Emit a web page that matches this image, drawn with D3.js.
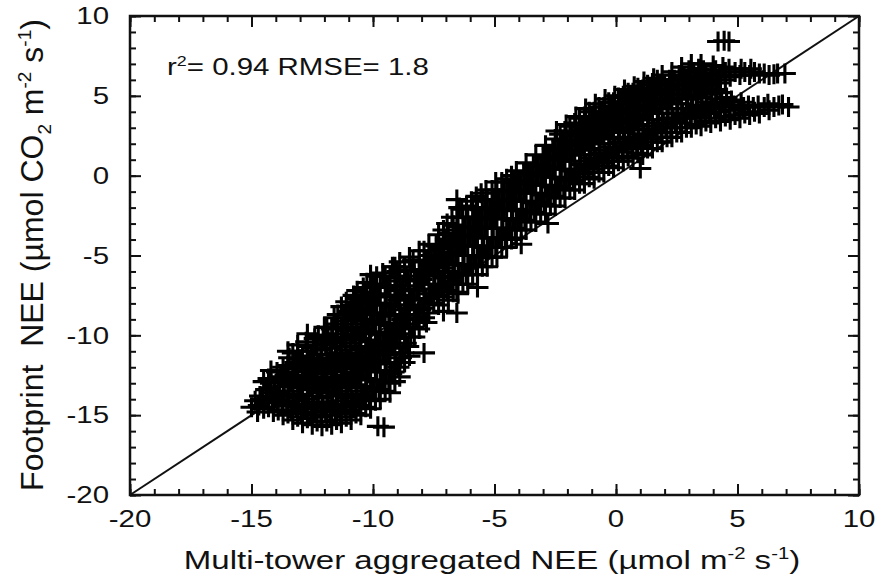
<!DOCTYPE html>
<html>
<head>
<meta charset="utf-8">
<script src="https://cdn.jsdelivr.net/npm/d3@7"></script>
<style>
  body { margin: 0; background: #fff; }
  svg text { font-family: "Liberation Sans", Arial, Helvetica, sans-serif; fill: #111; }
</style>
</head>
<body>
<div id="chart"></div>
<script>
// tick values for both axes (same range)
const xTicks = [-20, -15, -10, -5, 0, 5, 10];
const yTicks = [-20, -15, -10, -5, 0, 5, 10];

// stats shown in the corner
const r2 = "0.94";
const rmse = "1.8";

// [multi-tower aggregated NEE, footprint NEE]
const uptakePoints = [
  [-15.0,-14.5],[-14.85,-14.1],[-14.75,-14.8],
  [-14.5,-14.6],[-14.55,-14.0],[-14.4,-13.4],[-14.5,-12.9],
  [-14.2,-12.2],[-14.1,-14.8],[-14.15,-14.2],[-14.05,-13.6],[-14.2,-13.0],
  [-13.7,-15.0],[-13.75,-14.4],[-13.65,-13.8],[-13.7,-13.2],[-13.8,-12.6],[-13.7,-12.0],[-13.5,-11.0],
  [-13.3,-15.3],[-13.35,-14.7],[-13.25,-14.1],[-13.3,-13.5],[-13.4,-12.9],[-13.3,-12.3],[-13.2,-11.7],[-13.3,-11.1],[-13.1,-10.6],
  [-12.9,-15.5],[-12.95,-14.9],[-12.85,-14.3],[-12.9,-13.7],[-13.0,-13.1],[-12.9,-12.5],[-12.8,-11.9],[-12.9,-11.3],[-12.7,-10.7],[-12.7,-9.9],
  [-12.5,-15.6],[-12.55,-15.0],[-12.45,-14.4],[-12.5,-13.8],[-12.6,-13.2],[-12.5,-12.6],[-12.4,-12.0],[-12.5,-11.4],[-12.45,-10.8],[-12.4,-10.2],
  [-12.1,-15.7],[-12.15,-15.1],[-12.05,-14.5],[-12.1,-13.9],[-12.2,-13.3],[-12.1,-12.7],[-12.0,-12.1],[-12.1,-11.5],[-12.15,-10.9],[-12.05,-10.3],[-12.0,-9.5],
  [-11.7,-15.6],[-11.75,-15.0],[-11.65,-14.4],[-11.7,-13.8],[-11.8,-13.2],[-11.7,-12.6],[-11.6,-12.0],[-11.7,-11.4],[-11.75,-10.8],[-11.65,-10.2],[-11.7,-9.6],[-11.6,-8.9],
  [-11.3,-15.5],[-11.35,-14.9],[-11.25,-14.3],[-11.3,-13.7],[-11.4,-13.1],[-11.3,-12.5],[-11.2,-11.9],[-11.3,-11.3],[-11.35,-10.7],[-11.25,-10.1],[-11.3,-9.5],[-11.2,-8.9],[-11.3,-8.2],
  [-10.9,-15.3],[-10.95,-14.7],[-10.85,-14.1],[-10.9,-13.5],[-11.0,-12.9],[-10.9,-12.3],[-10.8,-11.7],[-10.9,-11.1],[-10.95,-10.5],[-10.85,-9.9],[-10.9,-9.3],[-10.8,-8.7],[-10.9,-8.1],[-10.8,-7.5],
  [-10.5,-15.0],[-10.55,-14.4],[-10.45,-13.8],[-10.5,-13.2],[-10.6,-12.6],[-10.5,-12.0],[-10.4,-11.4],[-10.5,-10.8],[-10.55,-10.2],[-10.45,-9.6],[-10.5,-9.0],[-10.4,-8.4],[-10.5,-7.8],[-10.4,-7.0],
  [-10.1,-14.6],[-10.15,-14.0],[-10.05,-13.4],[-10.1,-12.8],[-10.2,-12.2],[-10.1,-11.6],[-10.0,-11.0],[-10.1,-10.4],[-10.15,-9.8],[-10.05,-9.2],[-10.1,-8.6],[-10.0,-8.0],[-10.1,-7.4],[-10.0,-6.8],[-10.1,-6.2],
  [-9.7,-14.0],[-9.75,-13.4],[-9.65,-12.8],[-9.7,-12.2],[-9.8,-11.6],[-9.7,-11.0],[-9.6,-10.4],[-9.7,-9.8],[-9.75,-9.2],[-9.65,-8.6],[-9.7,-8.0],[-9.8,-7.4],[-9.7,-6.8],[-9.6,-6.1],
  [-9.3,-13.6],[-9.35,-13.0],[-9.25,-12.4],[-9.3,-11.8],[-9.4,-11.2],[-9.3,-10.6],[-9.2,-10.0],[-9.3,-9.4],[-9.35,-8.8],[-9.25,-8.2],[-9.3,-7.6],[-9.4,-7.0],[-9.3,-6.4],[-9.2,-5.7],
  [-8.9,-12.6],[-8.95,-12.0],[-8.85,-11.4],[-8.9,-10.8],[-9.0,-10.2],[-8.9,-9.6],[-8.8,-9.0],[-8.9,-8.4],[-8.95,-7.8],[-8.85,-7.2],[-8.9,-6.6],[-9.0,-6.0],[-8.9,-5.4],
  [-8.5,-11.3],[-8.55,-10.7],[-8.45,-10.1],[-8.5,-9.5],[-8.6,-8.9],[-8.5,-8.3],[-8.4,-7.7],[-8.5,-7.1],[-8.55,-6.5],[-8.45,-5.9],[-8.5,-5.1],
  [-8.1,-9.6],[-8.15,-9.0],[-8.05,-8.4],[-8.1,-7.8],[-8.2,-7.2],[-8.1,-6.6],[-8.0,-6.0],[-8.1,-5.4],[-8.1,-4.7],
  [-7.7,-8.6],[-7.75,-8.0],[-7.65,-7.4],[-7.7,-6.8],[-7.8,-6.2],[-7.7,-5.6],[-7.6,-5.0],[-7.7,-4.3],
  [-7.3,-8.1],[-7.35,-7.5],[-7.25,-6.9],[-7.3,-6.3],[-7.4,-5.7],[-7.3,-5.1],[-7.2,-4.5],[-7.3,-3.7],
  [-6.9,-7.8],[-6.95,-7.2],[-6.85,-6.6],[-6.9,-6.0],[-7.0,-5.4],[-6.9,-4.8],[-6.8,-4.2],[-6.9,-3.6],[-6.95,-3.0],
  [-6.5,-7.4],[-6.55,-6.8],[-6.45,-6.2],[-6.5,-5.6],[-6.6,-5.0],[-6.5,-4.4],[-6.4,-3.8],[-6.5,-3.2],[-6.55,-2.6],[-6.45,-2.0],
  [-6.1,-6.8],[-6.15,-6.2],[-6.05,-5.6],[-6.1,-5.0],[-6.2,-4.4],[-6.1,-3.8],[-6.0,-3.2],[-6.1,-2.6],[-6.15,-1.9],
  [-5.7,-6.2],[-5.75,-5.6],[-5.65,-5.0],[-5.7,-4.4],[-5.8,-3.8],[-5.7,-3.2],[-5.6,-2.6],[-5.7,-2.0],[-5.75,-1.3],
  [-5.3,-5.7],[-5.35,-5.1],[-5.25,-4.5],[-5.3,-3.9],[-5.4,-3.3],[-5.3,-2.7],[-5.2,-2.1],[-5.3,-1.5],[-5.35,-0.9],
  [-4.9,-5.1],[-4.95,-4.5],[-4.85,-3.9],[-4.9,-3.3],[-5.0,-2.7],[-4.9,-2.1],[-4.8,-1.5],[-4.9,-0.9],[-4.95,-0.4],
  [-4.5,-4.5],[-4.55,-3.9],[-4.45,-3.3],[-4.5,-2.7],[-4.6,-2.1],[-4.5,-1.5],[-4.4,-0.9],[-4.5,-0.2]
];

const transitionPoints = [
  [-4.1,-3.9],[-4.15,-3.3],[-4.05,-2.7],[-4.1,-2.1],[-4.2,-1.5],[-4.1,-0.9],[-4.0,-0.3],[-4.1,0.3],
  [-3.7,-3.4],[-3.75,-2.8],[-3.65,-2.2],[-3.7,-1.6],[-3.8,-1.0],[-3.7,-0.4],[-3.6,0.2],[-3.7,0.8],
  [-3.3,-2.9],[-3.35,-2.3],[-3.25,-1.7],[-3.3,-1.1],[-3.4,-0.5],[-3.3,0.1],[-3.2,0.7],[-3.3,1.3],
  [-2.9,-2.4],[-2.95,-1.8],[-2.85,-1.2],[-2.9,-0.6],[-3.0,0.0],[-2.9,0.6],[-2.8,1.2],[-2.9,1.9],
  [-2.5,-1.9],[-2.55,-1.3],[-2.45,-0.7],[-2.5,-0.1],[-2.6,0.5],[-2.5,1.1],[-2.4,1.7],[-2.5,2.3],[-2.45,2.8],
  [-2.1,-1.4],[-2.15,-0.8],[-2.05,-0.2],[-2.1,0.4],[-2.2,1.0],[-2.1,1.6],[-2.0,2.2],[-2.1,2.8],[-2.05,3.2],
  [-1.7,-0.9],[-1.75,-0.3],[-1.65,0.3],[-1.7,0.9],[-1.8,1.5],[-1.7,2.1],[-1.6,2.7],[-1.7,3.3],[-1.65,3.7],
  [-1.3,-0.5],[-1.35,0.1],[-1.25,0.7],[-1.3,1.3],[-1.4,1.9],[-1.3,2.5],[-1.2,3.1],[-1.3,3.7],[-1.25,4.2],
  [-0.9,-0.2],[-0.95,0.4],[-0.85,1.0],[-0.9,1.6],[-1.0,2.2],[-0.9,2.8],[-0.8,3.4],[-0.9,4.0],[-0.85,4.5],
  [-0.5,0.2],[-0.55,0.8],[-0.45,1.4],[-0.5,2.0],[-0.6,2.6],[-0.5,3.2],[-0.4,3.8],[-0.5,4.3],[-0.45,4.8],
  [-0.1,0.5],[-0.15,1.1],[-0.05,1.7],[-0.1,2.3],[-0.2,2.9],[-0.1,3.5],[0.0,4.1],[-0.1,4.6],[-0.05,5.0],
  [0.3,0.9],[0.25,1.5],[0.35,2.1],[0.3,2.7],[0.2,3.3],[0.3,3.9],[0.4,4.5],[0.3,5.0],[0.35,5.4],
  [0.7,1.1],[0.65,1.7],[0.75,2.3],[0.7,2.9],[0.6,3.5],[0.7,4.1],[0.8,4.7],[0.7,5.2],[0.75,5.6],
  [1.1,1.3],[1.05,1.9],[1.15,2.5],[1.1,3.1],[1.0,3.7],[1.1,4.3],[1.2,4.9],[1.1,5.4],[1.15,5.9],
  [1.5,1.7],[1.45,2.3],[1.55,2.9],[1.5,3.5],[1.4,4.1],[1.5,4.7],[1.6,5.3],[1.5,5.8],[1.55,6.1],
  [1.9,2.1],[1.85,2.7],[1.95,3.3],[1.9,3.9],[1.8,4.5],[1.9,5.1],[2.0,5.7],[1.9,6.3],
  [2.3,2.4],[2.25,3.0],[2.35,3.6],[2.3,4.2],[2.2,4.8],[2.3,5.4],[2.4,6.0],[2.3,6.5],
  [2.7,2.7],[2.65,3.3],[2.75,3.9],[2.7,4.5],[2.6,5.1],[2.7,5.7],[2.8,6.2],[2.7,6.8],
  [3.1,3.0],[3.05,3.6],[3.15,4.2],[3.1,4.8],[3.0,5.4],[3.1,6.0],[3.2,6.5],[3.1,7.0]
];

const releasePoints = [
  [3.5,3.1],[3.45,3.7],[3.55,4.3],[3.5,4.9],[3.4,5.5],[3.5,6.1],[3.6,6.6],[3.5,7.0],
  [3.9,3.3],[3.85,3.9],[3.95,4.5],[3.9,5.1],[3.8,5.7],[3.9,6.3],[4.0,6.9],
  [4.3,3.4],[4.25,4.0],[4.35,4.6],[4.3,5.2],[4.2,5.8],[4.3,6.3],[4.4,6.8],
  [4.7,3.5],[4.65,4.1],[4.75,4.7],[4.7,6.2],[4.65,6.7],
  [5.1,3.6],[5.05,4.2],[5.15,4.6],[5.1,6.3],[5.15,6.7],
  [5.5,3.8],[5.45,4.4],[5.5,6.3],[5.55,6.7],
  [5.9,3.9],[5.85,4.4],[5.9,6.4],
  [6.3,4.1],[6.25,4.5],[6.3,6.3],
  [6.7,4.4],[6.65,6.4],
  [6.95,6.4],[7.1,4.3],[6.85,4.45]
];

// the dense core of the cloud, between the rows above
const densePoints = [
  [-14.7,-14.4],[-14.65,-13.8],
  [-14.3,-14.5],[-14.35,-13.9],[-14.25,-13.3],[-14.3,-12.7],
  [-13.9,-14.7],[-13.95,-14.1],[-13.85,-13.5],[-13.9,-12.9],[-13.95,-12.3],
  [-13.5,-14.9],[-13.55,-14.3],[-13.45,-13.7],[-13.5,-13.1],[-13.6,-12.5],[-13.5,-11.9],[-13.45,-11.4],
  [-13.1,-15.1],[-13.15,-14.5],[-13.05,-13.9],[-13.1,-13.3],[-13.2,-12.7],[-13.1,-12.1],[-13.0,-11.5],[-13.1,-11.0],
  [-12.7,-15.2],[-12.75,-14.6],[-12.65,-14.0],[-12.7,-13.4],[-12.8,-12.8],[-12.7,-12.2],[-12.6,-11.6],[-12.7,-11.0],[-12.75,-10.4],
  [-12.3,-15.4],[-12.35,-14.8],[-12.25,-14.2],[-12.3,-13.6],[-12.4,-13.0],[-12.3,-12.4],[-12.2,-11.8],[-12.3,-11.2],[-12.35,-10.6],[-12.25,-10.0],
  [-11.9,-15.4],[-11.95,-14.8],[-11.85,-14.2],[-11.9,-13.6],[-12.0,-13.0],[-11.9,-12.4],[-11.8,-11.8],[-11.9,-11.2],[-11.95,-10.6],[-11.85,-10.0],[-11.9,-9.5],
  [-11.5,-15.3],[-11.55,-14.7],[-11.45,-14.1],[-11.5,-13.5],[-11.6,-12.9],[-11.5,-12.3],[-11.4,-11.7],[-11.5,-11.1],[-11.55,-10.5],[-11.45,-9.9],[-11.5,-9.3],[-11.45,-8.7],
  [-11.1,-15.1],[-11.15,-14.5],[-11.05,-13.9],[-11.1,-13.3],[-11.2,-12.7],[-11.1,-12.1],[-11.0,-11.5],[-11.1,-10.9],[-11.15,-10.3],[-11.05,-9.7],[-11.1,-9.1],[-11.0,-8.5],[-11.1,-7.9],
  [-10.7,-14.9],[-10.75,-14.3],[-10.65,-13.7],[-10.7,-13.1],[-10.8,-12.5],[-10.7,-11.9],[-10.6,-11.3],[-10.7,-10.7],[-10.75,-10.1],[-10.65,-9.5],[-10.7,-8.9],[-10.6,-8.3],[-10.7,-7.7],[-10.65,-7.2],
  [-10.3,-14.5],[-10.35,-13.9],[-10.25,-13.3],[-10.3,-12.7],[-10.4,-12.1],[-10.3,-11.5],[-10.2,-10.9],[-10.3,-10.3],[-10.35,-9.7],[-10.25,-9.1],[-10.3,-8.5],[-10.2,-7.9],[-10.3,-7.3],[-10.25,-6.7],
  [-9.9,-14.1],[-9.95,-13.5],[-9.85,-12.9],[-9.9,-12.3],[-10.0,-11.7],[-9.9,-11.1],[-9.8,-10.5],[-9.9,-9.9],[-9.95,-9.3],[-9.85,-8.7],[-9.9,-8.1],[-9.8,-7.5],[-9.9,-6.9],[-9.85,-6.3],
  [-9.5,-13.5],[-9.55,-12.9],[-9.45,-12.3],[-9.5,-11.7],[-9.6,-11.1],[-9.5,-10.5],[-9.4,-9.9],[-9.5,-9.3],[-9.55,-8.7],[-9.45,-8.1],[-9.5,-7.5],[-9.4,-6.9],[-9.5,-6.3],
  [-9.1,-12.9],[-9.15,-12.3],[-9.05,-11.7],[-9.1,-11.1],[-9.2,-10.5],[-9.1,-9.9],[-9.0,-9.3],[-9.1,-8.7],[-9.15,-8.1],[-9.05,-7.5],[-9.1,-6.9],[-9.0,-6.3],[-9.1,-5.7],
  [-8.7,-11.7],[-8.75,-11.1],[-8.65,-10.5],[-8.7,-9.9],[-8.8,-9.3],[-8.7,-8.7],[-8.6,-8.1],[-8.7,-7.5],[-8.75,-6.9],[-8.65,-6.3],[-8.7,-5.7],
  [-8.3,-10.1],[-8.35,-9.5],[-8.25,-8.9],[-8.3,-8.3],[-8.4,-7.7],[-8.3,-7.1],[-8.2,-6.5],[-8.3,-5.9],[-8.35,-5.3],
  [-7.9,-8.9],[-7.95,-8.3],[-7.85,-7.7],[-7.9,-7.1],[-8.0,-6.5],[-7.9,-5.9],[-7.8,-5.3],[-7.9,-4.7],
  [-7.5,-8.0],[-7.55,-7.4],[-7.45,-6.8],[-7.5,-6.2],[-7.6,-5.6],[-7.5,-5.0],[-7.4,-4.4],
  [-7.1,-7.6],[-7.15,-7.0],[-7.05,-6.4],[-7.1,-5.8],[-7.2,-5.2],[-7.1,-4.6],[-7.0,-4.0],[-7.1,-3.4],
  [-6.7,-7.3],[-6.75,-6.7],[-6.65,-6.1],[-6.7,-5.5],[-6.8,-4.9],[-6.7,-4.3],[-6.6,-3.7],[-6.7,-3.1],[-6.75,-2.6],
  [-6.3,-6.8],[-6.35,-6.2],[-6.25,-5.6],[-6.3,-5.0],[-6.4,-4.4],[-6.3,-3.8],[-6.2,-3.2],[-6.3,-2.6],[-6.35,-2.1],
  [-5.9,-6.2],[-5.95,-5.6],[-5.85,-5.0],[-5.9,-4.4],[-6.0,-3.8],[-5.9,-3.2],[-5.8,-2.6],[-5.9,-2.0],[-5.95,-1.6],
  [-5.5,-5.7],[-5.55,-5.1],[-5.45,-4.5],[-5.5,-3.9],[-5.6,-3.3],[-5.5,-2.7],[-5.4,-2.1],[-5.5,-1.5],[-5.55,-1.1],
  [-5.1,-5.1],[-5.15,-4.5],[-5.05,-3.9],[-5.1,-3.3],[-5.2,-2.7],[-5.1,-2.1],[-5.0,-1.5],[-5.1,-0.9],
  [-4.7,-4.5],[-4.75,-3.9],[-4.65,-3.3],[-4.7,-2.7],[-4.8,-2.1],[-4.7,-1.5],[-4.6,-0.9],[-4.7,-0.4],
  [-4.3,-4.0],[-4.35,-3.4],[-4.25,-2.8],[-4.3,-2.2],[-4.4,-1.6],[-4.3,-1.0],[-4.2,-0.4],[-4.3,0.0],
  [-3.9,-3.4],[-3.95,-2.8],[-3.85,-2.2],[-3.9,-1.6],[-4.0,-1.0],[-3.9,-0.4],[-3.8,0.2],
  [-3.5,-2.9],[-3.55,-2.3],[-3.45,-1.7],[-3.5,-1.1],[-3.6,-0.5],[-3.5,0.1],[-3.4,0.7],
  [-3.1,-2.4],[-3.15,-1.8],[-3.05,-1.2],[-3.1,-0.6],[-3.2,0.0],[-3.1,0.6],[-3.0,1.2],
  [-2.7,-1.9],[-2.75,-1.3],[-2.65,-0.7],[-2.7,-0.1],[-2.8,0.5],[-2.7,1.1],[-2.6,1.7],
  [-2.3,-1.4],[-2.35,-0.8],[-2.25,-0.2],[-2.3,0.4],[-2.4,1.0],[-2.3,1.6],[-2.2,2.2],[-2.3,2.6],
  [-1.9,-0.9],[-1.95,-0.3],[-1.85,0.3],[-1.9,0.9],[-2.0,1.5],[-1.9,2.1],[-1.8,2.7],[-1.9,3.1],
  [-1.5,-0.5],[-1.55,0.1],[-1.45,0.7],[-1.5,1.3],[-1.6,1.9],[-1.5,2.5],[-1.4,3.1],[-1.5,3.6],
  [-1.1,-0.1],[-1.15,0.5],[-1.05,1.1],[-1.1,1.7],[-1.2,2.3],[-1.1,2.9],[-1.0,3.5],[-1.1,4.0],
  [-0.7,0.2],[-0.75,0.8],[-0.65,1.4],[-0.7,2.0],[-0.8,2.6],[-0.7,3.2],[-0.6,3.8],[-0.7,4.3],
  [-0.3,0.6],[-0.35,1.2],[-0.25,1.8],[-0.3,2.4],[-0.4,3.0],[-0.3,3.6],[-0.2,4.2],[-0.3,4.6],
  [0.1,0.9],[0.05,1.5],[0.15,2.1],[0.1,2.7],[0.0,3.3],[0.1,3.9],[0.2,4.5],[0.1,4.9],
  [0.5,1.2],[0.45,1.8],[0.55,2.4],[0.5,3.0],[0.4,3.6],[0.5,4.2],[0.6,4.8],[0.5,5.2],
  [0.9,1.4],[0.85,2.0],[0.95,2.6],[0.9,3.2],[0.8,3.8],[0.9,4.4],[1.0,5.0],[0.9,5.5],
  [1.3,1.7],[1.25,2.3],[1.35,2.9],[1.3,3.5],[1.2,4.1],[1.3,4.7],[1.4,5.3],[1.3,5.7],
  [1.7,2.1],[1.65,2.7],[1.75,3.3],[1.7,3.9],[1.6,4.5],[1.7,5.1],[1.8,5.7],[1.7,6.0],
  [2.1,2.4],[2.05,3.0],[2.15,3.6],[2.1,4.2],[2.0,4.8],[2.1,5.4],[2.2,6.0],
  [2.5,2.7],[2.45,3.3],[2.55,3.9],[2.5,4.5],[2.4,5.1],[2.5,5.7],[2.6,6.3],
  [2.9,3.0],[2.85,3.6],[2.95,4.2],[2.9,4.8],[2.8,5.4],[2.9,6.0],[3.0,6.6],
  [3.3,3.2],[3.25,3.8],[3.35,4.4],[3.3,5.0],[3.2,5.6],[3.3,6.2],[3.4,6.7],
  [3.7,3.4],[3.65,4.0],[3.75,4.6],[3.7,5.2],[3.6,5.8],[3.7,6.4],
  [4.1,3.6],[4.05,4.2],[4.15,4.8],[4.1,5.4],[4.0,6.0],[4.1,6.6],
  [4.5,3.7],[4.45,4.3],[4.55,4.9],[4.5,6.0],[4.5,6.5],
  [4.9,3.8],[4.85,4.4],[4.9,6.5],
  [5.3,3.9],[5.25,4.3],[5.3,6.5],
  [5.7,4.0],[5.65,4.3],[5.7,6.5],
  [6.1,4.3],[6.1,6.4],
  [6.5,4.3],[6.5,6.35]
];

const outlierPoints = [
  [-9.8,-15.7],[-9.55,-15.75],[-7.9,-11.1],[-7.8,-9.2],[-7.1,-8.5],[-6.55,-8.6],
  [-6.55,-7.3],[-5.7,-7.0],[-6.55,-1.5],[-3.9,-4.3],[-2.8,-3.0],[1.0,0.45],
  [4.2,8.4],[4.45,8.45],[4.65,8.4]
];

const width = 882, height = 582;
const plot = { left: 130, top: 16, right: 859, bottom: 495 };
const STRETCH = 1.28; // the source figure is stretched horizontally

const svg = d3.select("#chart")
  .append("svg")
  .attr("width", width)
  .attr("height", height);

const x = d3.scaleLinear().domain([-20, 10]).range([plot.left, plot.right]);
const y = d3.scaleLinear().domain([-20, 10]).range([plot.bottom, plot.top]);

const minorTicks = d3.range(-20, 11, 1);

function tickAxis(axisFn, scale, translate, values, size) {
  svg.append("g")
    .attr("transform", translate)
    .call(axisFn(scale).tickValues(values).tickSize(size).tickSizeOuter(0).tickFormat(""))
    .call(g => g.select(".domain").remove())
    .selectAll("line")
      .attr("stroke", "#111")
      .attr("stroke-width", 2);
}

// inward ticks on all four sides
tickAxis(d3.axisBottom, x, `translate(0,${plot.bottom})`, minorTicks, -6);
tickAxis(d3.axisBottom, x, `translate(0,${plot.bottom})`, xTicks, -11);
tickAxis(d3.axisTop, x, `translate(0,${plot.top})`, minorTicks, -6);
tickAxis(d3.axisTop, x, `translate(0,${plot.top})`, xTicks, -11);
tickAxis(d3.axisLeft, y, `translate(${plot.left},0)`, minorTicks, -6);
tickAxis(d3.axisLeft, y, `translate(${plot.left},0)`, yTicks, -11);
tickAxis(d3.axisRight, y, `translate(${plot.right},0)`, minorTicks, -6);
tickAxis(d3.axisRight, y, `translate(${plot.right},0)`, yTicks, -11);

// 1:1 line
svg.append("line")
  .attr("x1", x(-20)).attr("y1", y(-20))
  .attr("x2", x(10)).attr("y2", y(10))
  .attr("stroke", "#111")
  .attr("stroke-width", 2);

// plus markers
const allPoints = uptakePoints.concat(transitionPoints, releasePoints, densePoints, outlierPoints);
const plus = "M-11,0H11M0,-10V10";

svg.append("g")
  .selectAll("path")
  .data(allPoints)
  .enter()
  .append("path")
    .attr("d", plus)
    .attr("transform", d => `translate(${x(d[0])},${y(d[1])})`)
    .attr("fill", "none")
    .attr("stroke", "#000")
    .attr("stroke-width", 3.1);

// frame
svg.append("rect")
  .attr("x", plot.left)
  .attr("y", plot.top)
  .attr("width", plot.right - plot.left)
  .attr("height", plot.bottom - plot.top)
  .attr("fill", "none")
  .attr("stroke", "#111")
  .attr("stroke-width", 2.5);

// tick labels
svg.append("g").selectAll("text")
  .data(xTicks)
  .enter()
  .append("text")
    .attr("transform", d => `translate(${x(d)},527) scale(${STRETCH},1)`)
    .attr("text-anchor", "middle")
    .style("font-size", "23px")
    .text(d => d);

svg.append("g").selectAll("text")
  .data(yTicks)
  .enter()
  .append("text")
    .attr("transform", d => `translate(109,${y(d)}) scale(${STRETCH},1)`)
    .attr("text-anchor", "end")
    .attr("dy", "0.36em")
    .style("font-size", "23px")
    .text(d => d);

// stats annotation
const stats = svg.append("text")
  .attr("transform", `translate(167,75) scale(${STRETCH},1)`)
  .style("font-size", "23px");
stats.append("tspan").text("r");
stats.append("tspan").attr("dy", -9).style("font-size", "14px").text("2");
stats.append("tspan").attr("dy", 9).text("= " + r2 + " RMSE= " + rmse);

// x axis title
const xTitle = svg.append("text")
  .attr("transform", `translate(492,569) scale(1.27,1)`)
  .attr("text-anchor", "middle")
  .style("font-size", "26px");
xTitle.append("tspan").text("Multi-tower aggregated NEE (\u00b5mol m");
xTitle.append("tspan").attr("dy", -10).style("font-size", "16px").text("-2");
xTitle.append("tspan").attr("dy", 10).text(" s");
xTitle.append("tspan").attr("dy", -10).style("font-size", "16px").text("-1");
xTitle.append("tspan").attr("dy", 10).text(")");

// y axis title
const yTitle = svg.append("text")
  .attr("transform", "translate(43,255) rotate(-90)")
  .attr("text-anchor", "middle")
  .style("font-size", "32px")
  .style("white-space", "pre");
yTitle.append("tspan").text("Footprint  NEE (\u00b5mol CO");
yTitle.append("tspan").attr("dy", 8).style("font-size", "19px").text("2");
yTitle.append("tspan").attr("dy", -8).text(" m");
yTitle.append("tspan").attr("dy", -12).style("font-size", "19px").text("-2");
yTitle.append("tspan").attr("dy", 12).text(" s");
yTitle.append("tspan").attr("dy", -12).style("font-size", "19px").text("-1");
yTitle.append("tspan").attr("dy", 12).text(")");
</script>
</body>
</html>
